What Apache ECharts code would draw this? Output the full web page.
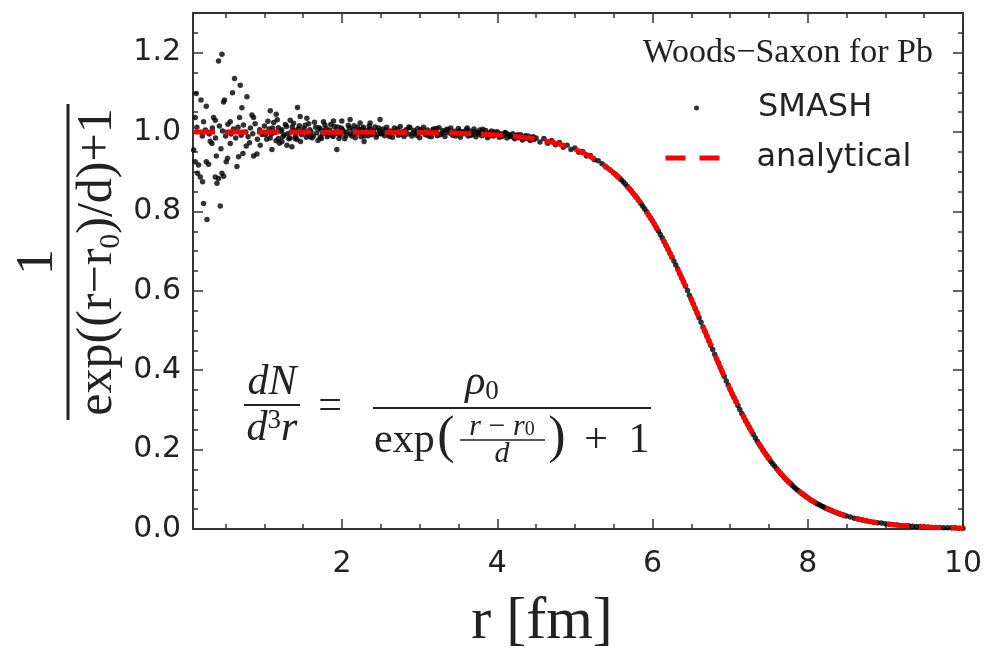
<!DOCTYPE html>
<html><head><meta charset="utf-8">
<script src="https://cdn.jsdelivr.net/npm/echarts@6/dist/echarts.min.js"></script>
<style>html,body{margin:0;padding:0;background:#fff}#c{width:989px;height:650px}</style>
</head><body><div id="c"></div>
<script>
// ---------------- data ----------------
const xRange = [0.08, 10];
const yRange = [0, 1.3];
const xMajorTicks = [2, 4, 6, 8, 10];
const xMinorTicks = [0.5, 1, 1.5, 2.5, 3, 3.5, 4.5, 5, 5.5, 6.5, 7, 7.5, 8.5, 9, 9.5];
const yMajorTicks = [0, 0.2, 0.4, 0.6, 0.8, 1.0, 1.2];
const yMinorTicks = [0.05, 0.1, 0.15, 0.25, 0.3, 0.35, 0.45, 0.5, 0.55, 0.65, 0.7, 0.75, 0.85, 0.9, 0.95, 1.05, 1.1, 1.15, 1.25];

// analytical Woods-Saxon curve
const analyticalR = [0.08, 0.5, 1.0, 1.5, 2.0, 2.5, 3.0, 3.5, 3.75, 4.0, 4.1, 4.2, 4.3, 4.4, 4.5, 4.6, 4.7, 4.8, 4.9,
  5.0, 5.1, 5.2, 5.3, 5.4, 5.5, 5.6, 5.7, 5.8, 5.9, 6.0, 6.1, 6.2, 6.3, 6.4, 6.5, 6.6, 6.7, 6.8, 6.9,
  7.0, 7.1, 7.2, 7.3, 7.4, 7.5, 7.6, 7.7, 7.8, 7.9, 8.0, 8.1, 8.2, 8.3, 8.4, 8.5, 8.6, 8.7, 8.8, 8.9,
  9.0, 9.1, 9.2, 9.3, 9.4, 9.5, 9.6, 9.7, 9.8, 9.9, 10.0];
const analyticalV = [1.0, 1.0, 1.0, 0.9999, 0.9998, 0.9996, 0.9989, 0.9972, 0.9955, 0.9929, 0.9915, 0.9898, 0.9877, 0.9853, 0.9823, 0.9788, 0.9746, 0.9696, 0.9637,
  0.9566, 0.9482, 0.9383, 0.9267, 0.9131, 0.8972, 0.8788, 0.8577, 0.8336, 0.8063, 0.7757, 0.7418, 0.7048, 0.6649, 0.6225, 0.5781, 0.5324, 0.4861, 0.4401, 0.3952,
  0.3519, 0.3109, 0.2726, 0.2375, 0.2056, 0.1770, 0.1516, 0.1293, 0.1098, 0.0930, 0.0785, 0.0661, 0.0556, 0.0466, 0.0391, 0.0327, 0.0273, 0.0228, 0.0190, 0.0158,
  0.0132, 0.0110, 0.0091, 0.0076, 0.0063, 0.0053, 0.0044, 0.0036, 0.0030, 0.0025, 0.0021];

// SMASH sampled points [r, value]
const smashCore = [[0.088,0.955],[0.109,0.925],[0.109,1.037],[0.122,1.097],[0.130,1.012],[0.139,0.896],[0.152,0.917],[0.174,0.887],[0.183,1.081],[0.200,0.990],[0.203,0.875],[0.216,1.026],[0.216,0.820],[0.240,1.005],[0.251,0.925],[0.251,1.065],[0.260,0.780],[0.281,0.919],[0.290,0.995],[0.302,0.977],[0.324,0.971],[0.330,1.010],[0.345,1.037],[0.367,1.030],[0.367,0.887],[0.370,0.985],[0.380,0.940],[0.389,0.871],[0.409,0.883],[0.409,1.179],[0.420,1.015],[0.431,0.814],[0.440,0.958],[0.453,1.196],[0.453,0.896],[0.460,1.003],[0.474,0.889],[0.474,1.076],[0.486,1.081],[0.500,0.990],[0.508,0.925],[0.525,0.934],[0.530,1.020],[0.560,0.971],[0.560,1.026],[0.570,0.995],[0.589,1.099],[0.600,1.008],[0.615,1.135],[0.630,0.985],[0.646,0.913],[0.660,1.012],[0.667,0.938],[0.680,1.037],[0.689,1.118],[0.700,0.992],[0.710,1.061],[0.723,0.946],[0.730,1.018],[0.760,1.000],[0.766,0.965],[0.775,1.089],[0.790,0.988],[0.808,0.973],[0.820,1.010],[0.839,1.043],[0.850,0.996],[0.860,1.037],[0.860,0.940],[0.880,1.021],[0.903,0.945],[0.910,0.982],[0.940,1.006],[0.946,0.967],[0.970,0.994]];
const smashBand = [[1.075,1.054],[1.097,0.956],[1.152,1.045],[1.181,0.984],[1.225,0.976],[1.290,0.967],[1.332,1.030],[1.354,0.963],[1.396,0.984],[1.426,1.062],[1.461,1.039],[1.547,1.035],[1.589,0.988],[1.718,0.987],[1.761,1.026],[1.889,1.028],[1.933,0.956],[1.997,1.028],[2.104,1.032],[2.233,1.023],[2.284,0.976],[2.362,1.023],[2.490,1.032],
  [1.00,1.015],[1.03,0.982],[1.06,1.008],[1.09,0.995],[1.12,1.024],[1.15,0.978],[1.18,1.011],[1.21,1.002],[1.24,0.989],[1.27,1.019],[1.30,0.996],[1.33,0.985],[1.36,1.013],[1.39,1.004],[1.42,0.981],[1.45,1.016],[1.48,0.993],[1.51,1.009],[1.54,0.987],[1.57,1.021],[1.60,1.001],[1.63,0.990],[1.66,1.012],[1.69,0.979],[1.72,1.007],[1.75,0.996],[1.78,1.018],[1.81,0.988],[1.84,1.005],[1.87,0.992],[1.90,1.014],[1.93,0.997],[1.96,0.984],[1.99,1.010],[2.02,1.001],[2.05,0.991],[2.08,1.017],[2.11,0.995],[2.14,1.006],[2.17,0.986],[2.20,1.012],[2.23,0.998],[2.26,1.008],[2.29,0.990],[2.32,1.004],[2.35,1.015],[2.38,0.993],[2.41,1.002],[2.44,0.987],[2.47,1.010],[2.50,0.997],
  [1.015,0.994],[1.045,1.027],[1.075,0.985],[1.105,1.010],[1.135,0.999],[1.165,1.031],[1.195,0.972],[1.225,1.006],[1.255,0.993],[1.285,1.014],[1.315,0.983],[1.345,1.000],[1.375,1.022],[1.405,0.991],[1.435,1.008],[1.465,0.976],[1.495,1.003],[1.525,1.017],[1.555,0.995],[1.585,1.006],[1.615,0.986],[1.645,1.025],[1.675,0.998],[1.705,1.011],[1.735,0.984],[1.765,1.003],[1.795,1.009],[1.825,0.994],[1.855,1.019],[1.885,0.989],[1.915,1.001],[1.945,1.013],[1.975,0.992],[2.005,1.006],[2.035,0.983],[2.065,1.000],[2.095,1.011],[2.125,0.990],[2.155,1.016],[2.185,0.997],[2.215,1.005],[2.245,0.988],[2.275,1.012],[2.305,0.999],[2.335,0.991],[2.365,1.008],[2.395,1.001],[2.425,1.013],[2.455,0.994],[2.485,1.004]];
const smashPlateau = [[2.525,1.008],[2.55,0.991],[2.575,1.012],[2.60,0.996],[2.625,1.003],[2.65,0.987],[2.675,1.010],[2.70,0.999],[2.725,0.992],[2.75,1.014],[2.775,1.001],[2.80,0.989],[2.825,1.006],[2.85,0.995],[2.875,1.011],[2.90,0.990],[2.925,1.004],[2.95,0.998],[2.975,1.009],[3.00,0.986],[3.025,1.002],[3.05,1.012],[3.075,0.993],[3.10,1.005],[3.125,0.997],[3.15,0.988],[3.175,1.008],[3.20,1.000],[3.225,0.991],[3.25,1.011],[3.275,0.996],[3.30,1.004],[3.325,0.989],[3.35,1.007],[3.375,0.998],[3.40,1.010],[3.425,0.992],[3.45,1.002],[3.475,0.995],[3.50,1.009],[3.525,0.987],[3.55,1.001],[3.575,0.996],[3.60,1.006],[3.625,0.990],[3.65,1.003],[3.675,0.994],[3.70,1.008],[3.725,0.988],[3.75,0.999],[3.775,1.005],[3.80,0.991],[3.825,0.997],[3.85,1.004],[3.875,0.986],[3.90,0.998],[3.925,1.003],[3.95,0.990],[3.975,0.995],[4.00,1.001],[4.025,0.987],[4.05,0.996],[4.075,0.992],[4.10,0.999],[4.125,0.985],[4.15,0.994],[4.175,0.989],[4.20,0.996],[4.225,0.983],[4.25,0.991],[4.275,0.986],[4.30,0.993],[4.325,0.980],[4.35,0.988],[4.375,0.984],[4.40,0.990],[4.425,0.979],[4.45,0.986],[4.475,0.981],[4.50,0.985],
  [2.5125,0.995],[2.5625,1.004],[2.6125,0.989],[2.6625,1.001],[2.7125,1.007],[2.7625,0.994],[2.8125,1.000],[2.8625,1.013],[2.9125,0.997],[2.9625,0.992],[3.0125,1.006],[3.0625,0.999],[3.1125,0.990],[3.1625,1.003],[3.2125,1.009],[3.2625,0.993],[3.3125,0.999],[3.3625,1.005],[3.4125,0.996],[3.4625,0.990],[3.5125,1.003],[3.5625,0.998],[3.6125,1.010],[3.6625,0.992],[3.7125,1.000],[3.7625,0.995],[3.8125,1.007],[3.8625,0.993],[3.9125,0.991],[3.9625,1.000],[4.0125,0.994],[4.0625,0.989],[4.1125,0.997],[4.1625,0.990],[4.2125,0.987],[4.2625,0.993],[4.3125,0.985],[4.3625,0.991],[4.4125,0.983],[4.4625,0.988]];
const smashEdge = [[4.55,0.975],[4.60,0.984],[4.65,0.972],[4.70,0.979],[4.75,0.968],[4.80,0.974],[4.85,0.962],[4.90,0.967],[4.95,0.956],[5.00,0.960],[5.05,0.949],[5.10,0.951],[5.15,0.940],[5.20,0.941],[5.25,0.930],[5.30,0.928],[5.35,0.920],[5.40,0.912],[5.45,0.905],[5.50,0.897],
  [5.55,0.888],[5.60,0.879],[5.65,0.869],[5.70,0.858],[5.75,0.846],[5.80,0.834],[5.85,0.820],[5.90,0.806],[5.95,0.791],[6.00,0.776],[6.05,0.759],[6.10,0.742],[6.15,0.724],[6.20,0.705],[6.25,0.685],[6.30,0.665],[6.35,0.644],[6.40,0.623],[6.45,0.601],[6.50,0.578],[6.55,0.555],[6.60,0.532],[6.65,0.509],[6.70,0.486],[6.75,0.463],[6.80,0.440],[6.85,0.418],[6.90,0.395],[6.95,0.373],[7.00,0.352],[7.05,0.331],[7.10,0.311],[7.15,0.291],[7.20,0.273],[7.25,0.255],[7.30,0.238],[7.35,0.221],[7.40,0.206],[7.45,0.191],[7.50,0.177],[7.55,0.164],[7.60,0.152],[7.65,0.140],[7.70,0.129],[7.75,0.119],[7.80,0.110],[7.85,0.101],[7.90,0.093],[7.95,0.086],[8.00,0.079],[8.05,0.072],[8.10,0.066],[8.15,0.061],[8.20,0.056],[8.25,0.051],[8.30,0.047],[8.35,0.043],[8.40,0.039],[8.45,0.036],[8.50,0.033],[8.55,0.030],[8.60,0.027],[8.65,0.025],[8.70,0.023],[8.75,0.021],[8.80,0.019],[8.85,0.017],[8.90,0.016],[8.95,0.015],[9.00,0.013],[9.05,0.012],[9.10,0.011],[9.15,0.010],[9.20,0.009],[9.25,0.008],[9.30,0.008],[9.35,0.007],[9.40,0.006],[9.45,0.006],[9.50,0.005],[9.55,0.005],[9.60,0.004],[9.65,0.004],[9.70,0.004],[9.75,0.003],[9.80,0.003],[9.85,0.003],[9.90,0.003],[9.95,0.002],[10.00,0.002],
  [5.525,0.893],[5.575,0.884],[5.625,0.874],[5.675,0.863],[5.725,0.852],[5.775,0.840],[5.825,0.827],[5.875,0.813],[5.925,0.799],[5.975,0.784],[6.025,0.768],[6.075,0.751],[6.125,0.733],[6.175,0.714],[6.225,0.695],[6.275,0.675],[6.325,0.655],[6.375,0.633],[6.425,0.612],[6.475,0.589],[6.525,0.567],[6.575,0.544],[6.625,0.521],[6.675,0.498],[6.725,0.475],[6.775,0.452],[6.825,0.429],[6.875,0.406],[6.925,0.384],[6.975,0.363],[7.025,0.341],[7.075,0.321],[7.125,0.301],[7.175,0.282],[7.225,0.264],[7.275,0.246],[7.325,0.229],[7.375,0.213],[7.425,0.198],[7.475,0.184],[7.525,0.170],[7.575,0.158],[7.625,0.146],[7.675,0.135],[7.725,0.124],[7.775,0.115],[7.825,0.105],[7.875,0.097],[7.925,0.089],[7.975,0.082],[8.025,0.075],[8.075,0.069],[8.125,0.063],[8.175,0.058],[8.225,0.053],[8.275,0.049],[8.325,0.045],[8.375,0.041],[8.425,0.037],[8.475,0.034]];

const legendTitle = 'Woods\u2212Saxon for Pb';
const seriesNames = ['SMASH', 'analytical'];

// ---------------- chart ----------------
const chart = echarts.init(document.getElementById('c'), null, {renderer: 'canvas'});
const INK = '#222';
const FRAME = '#333';
const SERIF = '"Liberation Serif", "DejaVu Serif", serif';
const SANS = '"DejaVu Sans", sans-serif';
const FS = 42;   // formula font size

function xAxisDef(position, ticks, len, showLine, showLabel) {
  return {
    type: 'value', position: position, min: xRange[0], max: xRange[1],
    axisLine: {show: showLine, onZero: false, lineStyle: {color: FRAME, width: 2}},
    axisTick: {show: true, inside: true, length: len, customValues: ticks, lineStyle: {color: FRAME, width: 1.5}},
    axisLabel: showLabel ? {show: true, customValues: xMajorTicks, margin: 20, fontSize: 30, fontFamily: SANS, color: INK} : {show: false},
    splitLine: {show: false}
  };
}
function yAxisDef(position, ticks, len, showLine, showLabel) {
  return {
    type: 'value', position: position, min: yRange[0], max: yRange[1],
    axisLine: {show: showLine, onZero: false, lineStyle: {color: FRAME, width: 2}},
    axisTick: {show: true, inside: true, length: len, customValues: ticks, lineStyle: {color: FRAME, width: 1.5}},
    axisLabel: showLabel ? {show: true, customValues: yMajorTicks, margin: 12, fontSize: 30, fontFamily: SANS, color: INK,
      formatter: function (v) { return v.toFixed(1); }} : {show: false},
    splitLine: {show: false}
  };
}

const xMain = xAxisDef('bottom', xMajorTicks, 10, true, true);
xMain.name = 'r [fm]';
xMain.nameLocation = 'middle';
xMain.nameGap = 63;
xMain.nameTextStyle = {fontFamily: SERIF, fontSize: 60, color: INK, padding: [0, 72, 0, 0]};

const option = {
  animation: false,
  backgroundColor: '#fff',
  grid: {left: 193, right: 26, top: 13, bottom: 121, containLabel: false, outerBoundsMode: 'none'},
  xAxis: [
    xMain,
    xAxisDef('top', xMajorTicks, 10, true, false),
    xAxisDef('bottom', xMinorTicks, 5, false, false),
    xAxisDef('top', xMinorTicks, 5, false, false)
  ],
  yAxis: [
    yAxisDef('left', yMajorTicks, 10, true, true),
    yAxisDef('right', yMajorTicks, 10, true, false),
    yAxisDef('left', yMinorTicks, 5, false, false),
    yAxisDef('right', yMinorTicks, 5, false, false)
  ],
  title: {
    text: legendTitle, right: 56, top: 36, padding: 0,
    textStyle: {fontFamily: SERIF, fontSize: 34, fontWeight: 'normal', color: INK}
  },
  legend: [
    {data: [seriesNames[0]], orient: 'vertical', left: 694, top: 92, padding: 0,
      icon: 'circle', itemWidth: 5, itemHeight: 5,
      textStyle: {fontFamily: SANS, fontSize: 32, color: INK, padding: [0, 0, 0, 54]}},
    {data: [seriesNames[1]], orient: 'vertical', left: 663, top: 142, padding: 0,
      itemWidth: 55, itemHeight: 16,
      itemStyle: {opacity: 0},
      lineStyle: {type: [20, 14], width: 5, color: '#ff0000', opacity: 1},
      textStyle: {fontFamily: SANS, fontSize: 32, color: INK, padding: [0, 0, 0, 31]}}
  ],
  series: [
    {
      name: seriesNames[0], type: 'scatter', xAxisIndex: 0, yAxisIndex: 0,
      symbol: 'circle', symbolSize: 5.5, itemStyle: {color: '#000'},
      data: smashCore.concat(smashBand, smashPlateau, smashEdge), silent: true
    },
    {
      name: seriesNames[1], type: 'line', xAxisIndex: 0, yAxisIndex: 0,
      symbol: 'none', smooth: false,
      lineStyle: {color: '#ff0000', width: 5, type: [22, 10]},
      itemStyle: {color: '#ff0000'},
      data: analyticalR.map(function (r, i) { return [r, analyticalV[i]]; }), silent: true
    }
  ],
  graphic: [
    // y-axis title: 1 / (exp((r - r0)/d) + 1), rotated
    {type: 'group', x: 68, y: 262, rotation: Math.PI / 2, children: [
      {type: 'line', shape: {x1: -158, y1: 0, x2: 158, y2: 0}, style: {stroke: INK, lineWidth: 3}},
      {type: 'text', x: 0, y: -4, style: {text: '1', fontSize: 52, fontFamily: SERIF, fill: INK, textAlign: 'center', textVerticalAlign: 'bottom'}},
      {type: 'text', x: 0, y: 2, style: {text: '{a|exp((r\u2212r}{s|0}{a|)/d)+1}', textAlign: 'center', textVerticalAlign: 'top',
        rich: {a: {fontSize: 50, fontFamily: SERIF, fill: INK, lineHeight: 56}, s: {fontSize: 30, fontFamily: SERIF, fill: INK, lineHeight: 26, verticalAlign: 'bottom'}}}}
    ]},
    // formula: dN/d^3r = rho0 / (exp((r-r0)/d) + 1)
    {type: 'text', x: 272, y: 383, style: {text: 'dN', fontSize: FS, fontStyle: 'italic', fontFamily: SERIF, fill: INK, textAlign: 'center', textVerticalAlign: 'middle'}},
    {type: 'line', shape: {x1: 244, y1: 405, x2: 300, y2: 405}, style: {stroke: INK, lineWidth: 2}},
    {type: 'text', x: 272, y: 429, style: {text: '{i|d}{u|3}{i|r}', textAlign: 'center', textVerticalAlign: 'middle',
      rich: {i: {fontSize: FS, fontStyle: 'italic', fontFamily: SERIF, fill: INK, lineHeight: 44}, u: {fontSize: 27, fontFamily: SERIF, fill: INK, lineHeight: 26, verticalAlign: 'top'}}}},
    {type: 'text', x: 330, y: 407, style: {text: '=', fontSize: FS, fontFamily: SERIF, fill: INK, textAlign: 'center', textVerticalAlign: 'middle'}},
    {type: 'text', x: 482, y: 383, style: {text: '{i|\u03C1}{s|0}', textAlign: 'center', textVerticalAlign: 'middle',
      rich: {i: {fontSize: FS, fontStyle: 'italic', fontFamily: SERIF, fill: INK, lineHeight: 44}, s: {fontSize: 27, fontFamily: SERIF, fill: INK, lineHeight: 22, verticalAlign: 'bottom'}}}},
    {type: 'line', shape: {x1: 373, y1: 408, x2: 651, y2: 408}, style: {stroke: INK, lineWidth: 2}},
    {type: 'text', x: 374, y: 441, style: {text: 'exp', fontSize: FS, fontFamily: SERIF, fill: INK, textAlign: 'left', textVerticalAlign: 'middle'}},
    {type: 'text', x: 446, y: 438, style: {text: '(', fontSize: 52, fontFamily: SERIF, fill: INK, textAlign: 'center', textVerticalAlign: 'middle'}},
    {type: 'text', x: 502, y: 427, style: {text: '{i|r}{o| \u2212 }{i|r}{s|0}', textAlign: 'center', textVerticalAlign: 'middle',
      rich: {i: {fontSize: 30, fontStyle: 'italic', fontFamily: SERIF, fill: INK, lineHeight: 26}, o: {fontSize: 30, fontFamily: SERIF, fill: INK, lineHeight: 26}, s: {fontSize: 20, fontFamily: SERIF, fill: INK, lineHeight: 14, verticalAlign: 'bottom'}}}},
    {type: 'line', shape: {x1: 460, y1: 440, x2: 545, y2: 440}, style: {stroke: INK, lineWidth: 1.5}},
    {type: 'text', x: 502, y: 454, style: {text: 'd', fontSize: 30, fontStyle: 'italic', fontFamily: SERIF, fill: INK, textAlign: 'center', textVerticalAlign: 'middle'}},
    {type: 'text', x: 557, y: 438, style: {text: ')', fontSize: 52, fontFamily: SERIF, fill: INK, textAlign: 'center', textVerticalAlign: 'middle'}},
    {type: 'text', x: 596, y: 441, style: {text: '+', fontSize: FS, fontFamily: SERIF, fill: INK, textAlign: 'center', textVerticalAlign: 'middle'}},
    {type: 'text', x: 639, y: 441, style: {text: '1', fontSize: FS, fontFamily: SERIF, fill: INK, textAlign: 'center', textVerticalAlign: 'middle'}}
  ]
};
chart.setOption(option);
</script>
</body></html>
